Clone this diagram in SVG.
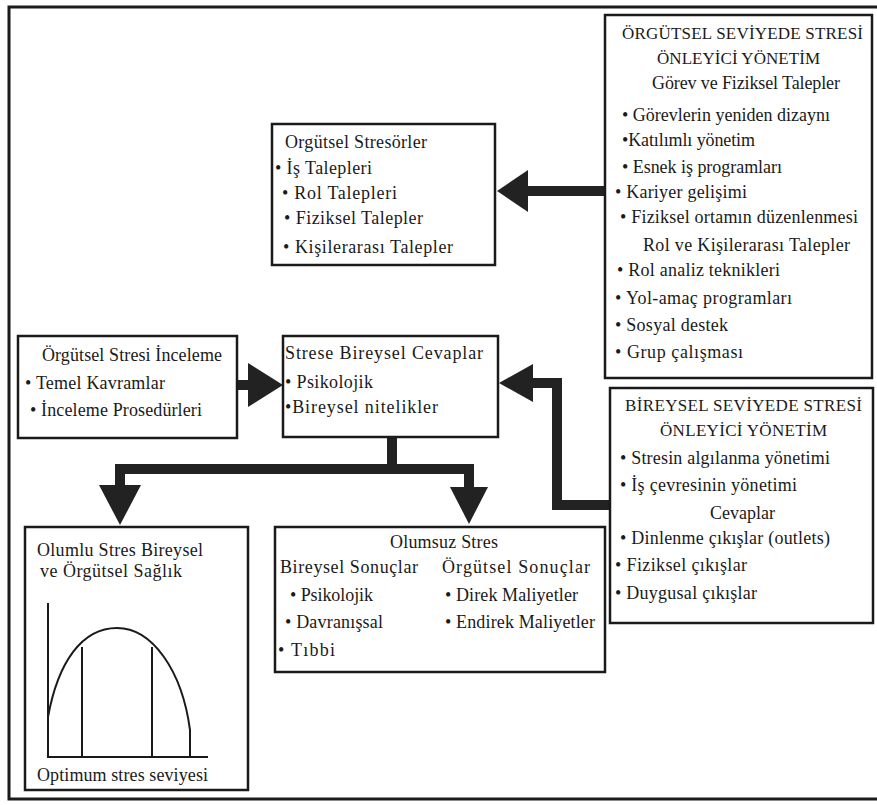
<svg xmlns="http://www.w3.org/2000/svg" width="877" height="805" viewBox="0 0 877 805">
<style>
text{font-family:"Liberation Serif","DejaVu Serif",serif;font-size:18px;fill:#1a1a1a}
.h{font-size:17px}
.box{fill:#fff;stroke:#1a1a1a;stroke-width:2.5}
.frame{fill:none;stroke:#1a1a1a;stroke-width:3}
.con{fill:none;stroke:#222;stroke-width:10;stroke-linejoin:miter}
.head{fill:#222}
.chart{fill:none;stroke:#1a1a1a;stroke-width:2}
</style>
<rect width="877" height="805" fill="#fff"/>
<path class="frame" d="M877,7 H9 V799 H877"/>

<g id="connectors">
  <path class="con" d="M605,191 H526"/>
  <polygon class="head" points="528,170 528,212 497,191"/>
  <path class="con" d="M237,385 H250"/>
  <polygon class="head" points="248,363 248,407 283,385"/>
  <path class="con" d="M610,505 H557 V383 H530"/>
  <polygon class="head" points="533,364 533,402 499,383"/>
  <path class="con" d="M392,437 V469"/>
  <path class="con" d="M120,489 V469 H469 V489"/>
  <polygon class="head" points="99,485 141,485 120,525"/>
  <polygon class="head" points="450,487 488,487 469,524"/>
</g>

<g id="orgutsel-onleyici">
  <rect class="box" x="605" y="15" width="267" height="363"/>
  <text class="h" x="622" y="39" textLength="241">ÖRGÜTSEL SEVİYEDE STRESİ</text>
  <text class="h" x="657" y="64" textLength="163">ÖNLEYİCİ YÖNETİM</text>
  <text x="652" y="89" textLength="188">Görev ve Fiziksel Talepler</text>
  <text x="622" y="121" textLength="208">• Görevlerin yeniden dizaynı</text>
  <text x="622" y="146" textLength="133">•Katılımlı yönetim</text>
  <text x="622" y="173" textLength="160">• Esnek iş programları</text>
  <text x="615" y="198" textLength="132">• Kariyer gelişimi</text>
  <text x="620" y="223" textLength="238">• Fiziksel ortamın düzenlenmesi</text>
  <text x="643" y="251" textLength="207">Rol ve Kişilerarası Talepler</text>
  <text x="617" y="276" textLength="163">• Rol analiz teknikleri</text>
  <text x="615" y="304" textLength="177">• Yol-amaç programları</text>
  <text x="615" y="331" textLength="113">• Sosyal destek</text>
  <text x="615" y="358" textLength="128">• Grup çalışması</text>
</g>

<g id="bireysel-onleyici">
  <rect class="box" x="610" y="388" width="263" height="235"/>
  <text class="h" x="625" y="411" textLength="237">BİREYSEL SEVİYEDE STRESİ</text>
  <text class="h" x="660" y="436" textLength="167">ÖNLEYİCİ YÖNETİM</text>
  <text x="620" y="464" textLength="210">• Stresin algılanma yönetimi</text>
  <text x="620" y="491" textLength="177">• İş çevresinin yönetimi</text>
  <text x="710" y="519" textLength="65">Cevaplar</text>
  <text x="620" y="544" textLength="210">• Dinlenme çıkışlar (outlets)</text>
  <text x="615" y="571" textLength="132">• Fiziksel çıkışlar</text>
  <text x="615" y="599" textLength="142">• Duygusal çıkışlar</text>
</g>

<g id="stresorler">
  <rect class="box" x="272" y="124" width="223" height="141"/>
  <text x="285" y="148" textLength="142">Orgütsel Stresörler</text>
  <text x="275" y="174" textLength="97">• İş Talepleri</text>
  <text x="282" y="199" textLength="115">• Rol Talepleri</text>
  <text x="284" y="224" textLength="139">• Fiziksel Talepler</text>
  <text x="283" y="253" textLength="170">• Kişilerarası Talepler</text>
</g>

<g id="inceleme">
  <rect class="box" x="18" y="336" width="219" height="102"/>
  <text x="42" y="361" textLength="180">Örgütsel Stresi İnceleme</text>
  <text x="25" y="389" textLength="140">• Temel Kavramlar</text>
  <text x="30" y="416" textLength="172">• İnceleme Prosedürleri</text>
</g>

<g id="bireysel-cevaplar">
  <rect class="box" x="283" y="336" width="215" height="101"/>
  <text x="285" y="359" textLength="198">Strese Bireysel Cevaplar</text>
  <text x="285" y="388" textLength="88">• Psikolojik</text>
  <text x="285" y="413" textLength="153">•Bireysel nitelikler</text>
</g>

<g id="olumsuz">
  <rect class="box" x="275" y="527" width="330" height="145"/>
  <text x="390" y="548" textLength="108">Olumsuz Stres</text>
  <text x="280" y="573" textLength="138">Bireysel Sonuçlar</text>
  <text x="442" y="573" textLength="148">Örgütsel Sonuçlar</text>
  <text x="290" y="601" textLength="83">• Psikolojik</text>
  <text x="445" y="601" textLength="133">• Direk Maliyetler</text>
  <text x="285" y="628" textLength="98">• Davranışsal</text>
  <text x="445" y="628" textLength="150">• Endirek Maliyetler</text>
  <text x="278" y="656" textLength="57">• Tıbbi</text>
</g>

<g id="olumlu">
  <rect class="box" x="25" y="527" width="223" height="263"/>
  <text x="37" y="556" textLength="166">Olumlu Stres Bireysel</text>
  <text x="40" y="577" textLength="142">ve Örgütsel Sağlık</text>
  <path class="chart" d="M48,603 V757 H208"/>
  <path class="chart" d="M48,717 C58,662 82,628 117,628 C152,628 182,670 190,730 V757"/>
  <path class="chart" d="M82,647 V757 M152,647 V757"/>
  <text x="37" y="781" textLength="171">Optimum stres seviyesi</text>
</g>
</svg>
